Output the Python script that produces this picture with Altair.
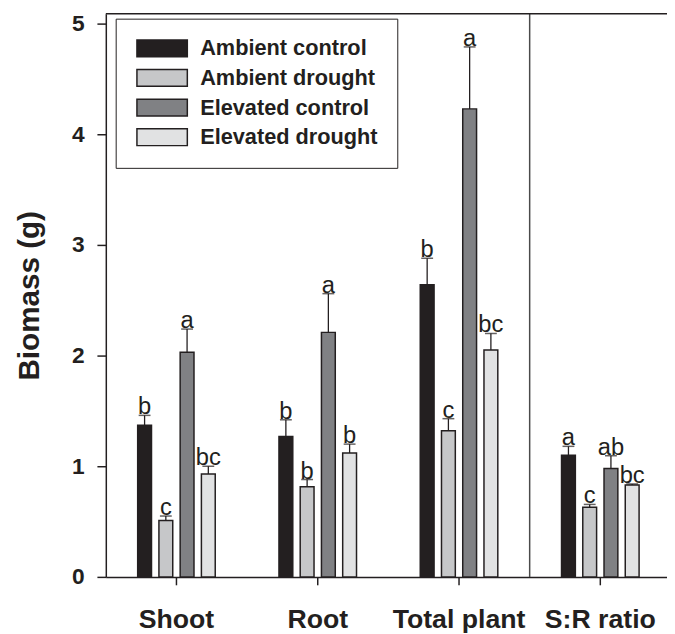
import altair as alt
import pandas as pd

categories = ["Shoot", "Root", "Total plant", "S:R ratio"]
series = ["Ambient control", "Ambient drought", "Elevated control", "Elevated drought"]
colors = ["#231f20", "#c6c7c9", "#808184", "#e1e2e3"]

ambient_control_mean = [1.37, 1.27, 2.64, 1.10]
ambient_control_upper = [1.46, 1.42, 2.88, 1.18]
ambient_control_letter = ["b", "b", "b", "a"]

ambient_drought_mean = [0.51, 0.815, 1.32, 0.63]
ambient_drought_upper = [0.55, 0.88, 1.43, 0.655]
ambient_drought_letter = ["c", "b", "c", "c"]

elevated_control_mean = [2.03, 2.21, 4.23, 0.98]
elevated_control_upper = [2.24, 2.56, 4.79, 1.095]
elevated_control_letter = ["a", "a", "a", "ab"]

elevated_drought_mean = [0.93, 1.12, 2.05, 0.83]
elevated_drought_upper = [1.00, 1.20, 2.20, 0.84]
elevated_drought_letter = ["bc", "b", "bc", "bc"]

y_ticks = [0, 1, 2, 3, 4, 5]

rows = []
for s, m, u, l in [
    (series[0], ambient_control_mean, ambient_control_upper, ambient_control_letter),
    (series[1], ambient_drought_mean, ambient_drought_upper, ambient_drought_letter),
    (series[2], elevated_control_mean, elevated_control_upper, elevated_control_letter),
    (series[3], elevated_drought_mean, elevated_drought_upper, elevated_drought_letter),
]:
    for c, mv, uv, lv in zip(categories, m, u, l):
        rows.append({"category": c, "series": s, "mean": mv, "upper": uv, "letter": lv})
df = pd.DataFrame(rows)

FONT = "Liberation Sans"
INK = "#231f20"
TITLE = "Biomass (g)"

xscale = alt.Scale(domain=categories, range=[0, 572], paddingInner=0, paddingOuter=0)
yscale = alt.Scale(domain=[0, 5.09], nice=False)
xoff = alt.XOffset("series:N", sort=series,
                   scale=alt.Scale(domain=series, range=[32.25, 110.75],
                                   paddingInner=0.349, paddingOuter=0))

x_enc = alt.X("category:N", sort=categories, scale=xscale, title=None,
              axis=alt.Axis(labelAngle=0, labelFont=FONT, labelFontSize=27,
                            labelFontWeight="bold", labelColor=INK, labelPadding=22,
                            tickSize=8, tickWidth=1.5, tickColor=INK,
                            domainColor=INK, domainWidth=1.5))

base = alt.Chart(df)

bars = base.mark_bar(stroke=INK, strokeWidth=1.5).encode(
    x=x_enc,
    xOffset=xoff,
    y=alt.Y("mean:Q", scale=yscale, title=TITLE,
            axis=alt.Axis(values=y_ticks, format="d", grid=False, labelFont=FONT, labelFontSize=23,
                          labelFontWeight="bold", labelColor=INK, labelPadding=13,
                          tickSize=9, tickWidth=1.5, tickColor=INK,
                          domainColor=INK, domainWidth=1.5,
                          titleFont=FONT, titleFontSize=30, titleFontWeight="bold",
                          titleColor=INK, titlePadding=27)),
    fill=alt.Fill("series:N", sort=series,
                  scale=alt.Scale(domain=series, range=colors),
                  legend=alt.Legend(title=None)),
)

err = base.mark_rule(color=INK, strokeWidth=1.3).encode(
    x=alt.X("category:N", sort=categories, scale=xscale),
    xOffset=xoff,
    y=alt.Y("mean:Q", scale=yscale, title=TITLE),
    y2="upper:Q",
)

caps = base.mark_tick(color=INK, thickness=1.5, size=12, orient="horizontal").encode(
    x=alt.X("category:N", sort=categories, scale=xscale),
    xOffset=xoff,
    y=alt.Y("upper:Q", scale=yscale, title=TITLE),
)

letters = base.mark_text(font=FONT, fontSize=24, color=INK, baseline="alphabetic", dy=-1).encode(
    x=alt.X("category:N", sort=categories, scale=xscale),
    xOffset=xoff,
    y=alt.Y("upper:Q", scale=yscale, title=TITLE),
    text="letter:N",
)

sep = alt.Chart(pd.DataFrame({"category": [categories[3]]})).mark_rule(
    color="#4a4a4a", strokeWidth=1.5).encode(
    x=alt.X("category:N", sort=categories, scale=xscale, bandPosition=0),
)

top = alt.Chart(pd.DataFrame({"k": [0]})).mark_rule(color=INK, strokeWidth=1.5).encode(
    x=alt.value(0), x2=alt.value(572), y=alt.value(0)
)

chart = alt.layer(bars, err, caps, letters, sep, top).properties(
    width=568, height=570,
    autosize=alt.AutoSizeParams(type="none"),
    padding={"left": 99, "top": 2, "right": 0, "bottom": 54},
).configure_view(stroke=None).configure_legend(
    orient="none", legendX=10, legendY=5, padding=19,
    strokeColor=INK, fillColor="white",
    symbolType="M-1,-1L5,-1L5,1L-1,1Z", symbolSize=289,
    symbolStrokeColor=INK, symbolStrokeWidth=1.5, symbolOpacity=1,
    labelFont=FONT, labelFontSize=22, labelFontWeight="bold", labelColor=INK,
    labelOffset=44.5, rowPadding=6, labelLimit=400,
)

chart.save("out.html", embed_options={"renderer": "svg", "actions": False})
